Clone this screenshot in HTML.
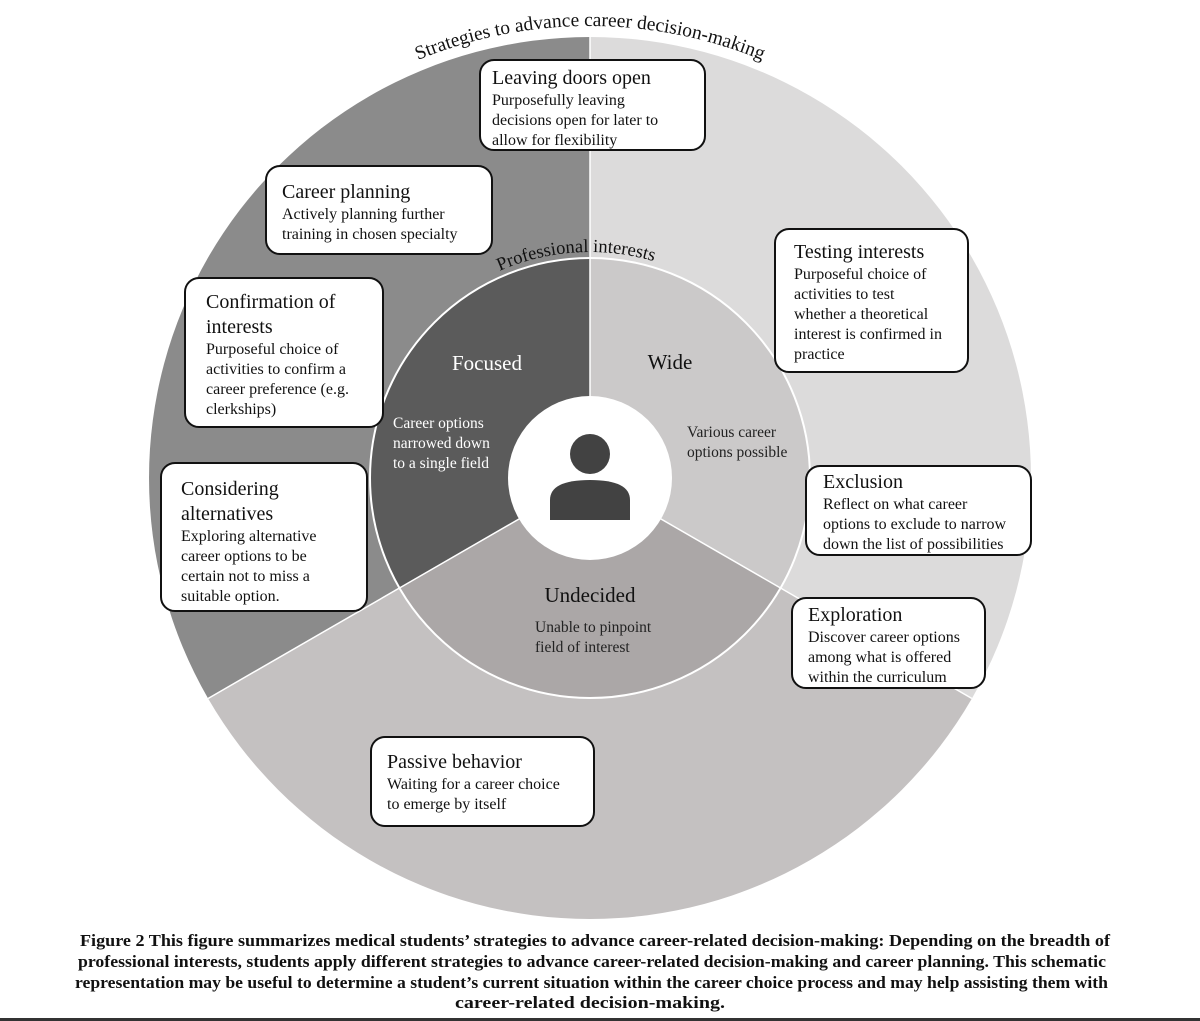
<!DOCTYPE html>
<html><head><meta charset="utf-8"><style>
html,body{margin:0;padding:0;background:#fff;}
svg{display:block;}
text{font-family:"Liberation Serif",serif;}
.t{font-size:20px;fill:#111;}
.b{font-size:16px;fill:#111;}
.cap{font-family:"Liberation Serif",serif;font-size:16.5px;font-weight:bold;fill:#111;}
</style></head><body>
<svg width="1200" height="1021" viewBox="0 0 1200 1021" xmlns="http://www.w3.org/2000/svg">
<defs>
<path id="arcOuter" d="M 138 478 A 452 452 0 0 1 1042 478"/>
<path id="arcInner" d="M 364 478 A 226 226 0 0 1 816 478"/>
</defs>
<path d="M590 478 L590 37 A441 441 0 0 0 208.1 698.5 Z" fill="#8b8b8b"/>
<path d="M590 478 L590 37 A441 441 0 0 1 971.9 698.5 Z" fill="#dcdbdb"/>
<path d="M590 478 L971.9 698.5 A441 441 0 0 1 208.1 698.5 Z" fill="#c4c1c1"/>
<g stroke="#fff" stroke-width="1.5">
<line x1="590" y1="478" x2="590" y2="37"/>
<line x1="590" y1="478" x2="208.1" y2="698.5"/>
<line x1="590" y1="478" x2="971.9" y2="698.5"/>
</g>
<path d="M590 478 L590 258 A220 220 0 0 0 399.5 588 Z" fill="#5b5b5b"/>
<path d="M590 478 L590 258 A220 220 0 0 1 780.5 588 Z" fill="#cbc9c9"/>
<path d="M590 478 L780.5 588 A220 220 0 0 1 399.5 588 Z" fill="#aba7a7"/>
<circle cx="590" cy="478" r="220" fill="none" stroke="#fff" stroke-width="2"/>
<g stroke="#fff" stroke-width="1.5">
<line x1="590" y1="478" x2="590" y2="258"/>
<line x1="590" y1="478" x2="399.5" y2="588"/>
<line x1="590" y1="478" x2="780.5" y2="588"/>
</g>
<circle cx="590" cy="478" r="82" fill="#fff"/>
<circle cx="590" cy="454" r="20" fill="#424242"/>
<path d="M550 520 L550 500 Q550 480 590 480 Q630 480 630 500 L630 520 Z" fill="#424242"/>

<text style="font-size:19.5px" fill="#111"><textPath href="#arcOuter" startOffset="50%" text-anchor="middle">Strategies to advance career decision-making</textPath></text>
<text style="font-size:18.5px" fill="#111"><textPath href="#arcInner" startOffset="48%" text-anchor="middle">Professional interests</textPath></text>

<text x="487" y="370" style="font-size:21px" fill="#fff" text-anchor="middle">Focused</text>
<text x="670" y="369" style="font-size:21px" fill="#111" text-anchor="middle">Wide</text>
<text x="590" y="602" style="font-size:21px" fill="#111" text-anchor="middle">Undecided</text>
<g class="b" style="font-size:15.5px">
<text x="393" y="428" fill="#fff">Career options</text>
<text x="393" y="448" fill="#fff">narrowed down</text>
<text x="393" y="468" fill="#fff">to a single field</text>
<text x="687" y="437" fill="#222">Various career</text>
<text x="687" y="457" fill="#222">options possible</text>
<text x="535" y="632" fill="#222">Unable to pinpoint</text>
<text x="535" y="652" fill="#222">field of interest</text>
</g>

<g fill="#fff" stroke="#111" stroke-width="2">
<rect x="480" y="60" width="225" height="90" rx="14"/>
<rect x="266" y="166" width="226" height="88" rx="14"/>
<rect x="775" y="229" width="193" height="143" rx="14"/>
<rect x="185" y="278" width="198" height="149" rx="14"/>
<rect x="161" y="463" width="206" height="148" rx="14"/>
<rect x="806" y="466" width="225" height="89" rx="14"/>
<rect x="792" y="598" width="193" height="90" rx="14"/>
<rect x="371" y="737" width="223" height="89" rx="14"/>
</g>
<text class="t" x="492" y="84">Leaving doors open</text>
<text class="b" x="492" y="105">Purposefully leaving</text>
<text class="b" x="492" y="125">decisions open for later to</text>
<text class="b" x="492" y="145">allow for flexibility</text>

<text class="t" x="282" y="198">Career planning</text>
<text class="b" x="282" y="219">Actively planning further</text>
<text class="b" x="282" y="239">training in chosen specialty</text>

<text class="t" x="794" y="258">Testing interests</text>
<text class="b" x="794" y="279">Purposeful choice of</text>
<text class="b" x="794" y="299">activities to test</text>
<text class="b" x="794" y="319">whether a theoretical</text>
<text class="b" x="794" y="339">interest is confirmed in</text>
<text class="b" x="794" y="359">practice</text>

<text class="t" x="206" y="308">Confirmation of</text>
<text class="t" x="206" y="333">interests</text>
<text class="b" x="206" y="354">Purposeful choice of</text>
<text class="b" x="206" y="374">activities to confirm a</text>
<text class="b" x="206" y="394">career preference (e.g.</text>
<text class="b" x="206" y="414">clerkships)</text>

<text class="t" x="181" y="495">Considering</text>
<text class="t" x="181" y="520">alternatives</text>
<text class="b" x="181" y="541">Exploring alternative</text>
<text class="b" x="181" y="561">career options to be</text>
<text class="b" x="181" y="581">certain not to miss a</text>
<text class="b" x="181" y="601">suitable option.</text>

<text class="t" x="823" y="488">Exclusion</text>
<text class="b" x="823" y="509">Reflect on what career</text>
<text class="b" x="823" y="529">options to exclude to narrow</text>
<text class="b" x="823" y="549">down the list of possibilities</text>

<text class="t" x="808" y="621">Exploration</text>
<text class="b" x="808" y="642">Discover career options</text>
<text class="b" x="808" y="662">among what is offered</text>
<text class="b" x="808" y="682">within the curriculum</text>

<text class="t" x="387" y="768">Passive behavior</text>
<text class="b" x="387" y="789">Waiting for a career choice</text>
<text class="b" x="387" y="809">to emerge by itself</text>

<text class="cap" x="80" y="946" textLength="1030" lengthAdjust="spacingAndGlyphs">Figure 2  This figure summarizes medical students’ strategies to advance career-related decision-making: Depending on the breadth of</text>
<text class="cap" x="78" y="967" textLength="1028" lengthAdjust="spacingAndGlyphs">professional interests, students apply different strategies to advance career-related decision-making and career planning. This schematic</text>
<text class="cap" x="75" y="988" textLength="1033" lengthAdjust="spacingAndGlyphs">representation may be useful to determine a student’s current situation within the career choice process and may help assisting them with</text>
<text class="cap" x="455" y="1008" textLength="270" lengthAdjust="spacingAndGlyphs">career-related decision-making.</text>
<rect x="0" y="1018" width="1200" height="3" fill="#333"/>
</svg>
</body></html>
